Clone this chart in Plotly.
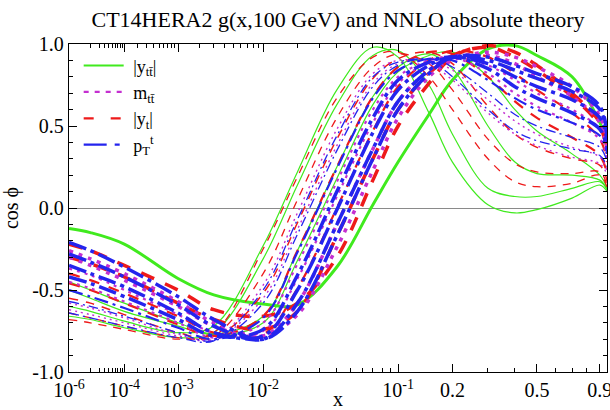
import plotly.graph_objects as go

# ---- data (cos phi vs x) ----
x_grid = [1e-6, 1e-5, 1e-4, 1e-3, 3e-3, 0.01, 0.02, 0.04, 0.07, 0.1,
          0.15, 0.2, 0.3, 0.4, 0.5, 0.7, 0.9, 0.96]

# |y_tt| (green)
g1 = [-0.60, -0.63, -0.69, -0.76, -0.72, -0.23, 0.22, 0.72, 0.98, 0.92, 0.58, 0.28, 0.02, -0.03, -0.01, 0.06, 0.14, 0.10]
g2 = [-0.66, -0.68, -0.73, -0.79, -0.76, -0.31, 0.14, 0.63, 0.93, 0.96, 0.75, 0.45, 0.12, 0.07, 0.07, 0.12, 0.16, 0.11]
g3 = [-0.50, -0.55, -0.63, -0.72, -0.77, -0.66, -0.26, 0.25, 0.68, 0.86, 0.94, 0.85, 0.50, 0.28, 0.21, 0.20, 0.17, 0.11]
g4 = [-0.45, -0.50, -0.58, -0.70, -0.77, -0.70, -0.32, 0.18, 0.63, 0.83, 0.93, 0.95, 0.80, 0.60, 0.47, 0.33, 0.20, 0.12]
g5 = [-0.125, -0.15, -0.22, -0.43, -0.53, -0.585, -0.59, -0.36, 0.02, 0.28, 0.57, 0.78, 0.97, 0.99, 0.93, 0.80, 0.52, 0.40]

# m_tt (magenta)
m1 = [-0.62, -0.65, -0.70, -0.78, -0.80, -0.47, -0.03, 0.48, 0.82, 0.90, 0.88, 0.78, 0.58, 0.45, 0.38, 0.31, 0.27, 0.20]
m2 = [-0.58, -0.61, -0.67, -0.77, -0.80, -0.55, -0.13, 0.38, 0.76, 0.88, 0.90, 0.84, 0.66, 0.53, 0.45, 0.37, 0.31, 0.22]
m3 = [-0.45, -0.49, -0.57, -0.70, -0.79, -0.70, -0.34, 0.16, 0.60, 0.80, 0.90, 0.92, 0.82, 0.70, 0.62, 0.52, 0.42, 0.30]
m4 = [-0.37, -0.41, -0.50, -0.65, -0.76, -0.75, -0.43, 0.07, 0.52, 0.76, 0.89, 0.92, 0.87, 0.78, 0.70, 0.60, 0.48, 0.34]
m5 = [-0.30, -0.35, -0.44, -0.60, -0.72, -0.78, -0.58, -0.10, 0.36, 0.65, 0.84, 0.92, 0.93, 0.88, 0.80, 0.68, 0.52, 0.36]
m6 = [-0.26, -0.31, -0.40, -0.57, -0.70, -0.78, -0.65, -0.24, 0.23, 0.55, 0.80, 0.90, 0.95, 0.92, 0.86, 0.74, 0.56, 0.38]

# |y_t| (red)
r1 = [-0.68, -0.70, -0.74, -0.80, -0.76, -0.25, 0.19, 0.67, 0.92, 0.95, 0.80, 0.60, 0.30, 0.16, 0.13, 0.15, 0.20, 0.12]
r2 = [-0.64, -0.67, -0.72, -0.79, -0.78, -0.40, 0.05, 0.55, 0.86, 0.94, 0.88, 0.72, 0.42, 0.27, 0.22, 0.21, 0.22, 0.13]
r3 = [-0.55, -0.58, -0.65, -0.76, -0.79, -0.52, -0.09, 0.42, 0.79, 0.91, 0.95, 0.88, 0.62, 0.45, 0.37, 0.30, 0.26, 0.16]
r4 = [-0.46, -0.50, -0.58, -0.71, -0.78, -0.66, -0.26, 0.25, 0.68, 0.86, 0.95, 0.94, 0.80, 0.65, 0.55, 0.43, 0.32, 0.20]
r5 = [-0.40, -0.44, -0.52, -0.66, -0.76, -0.77, -0.49, 0.00, 0.47, 0.74, 0.90, 0.96, 0.92, 0.82, 0.72, 0.58, 0.42, 0.28]
r6 = [-0.30, -0.34, -0.42, -0.58, -0.68, -0.74, -0.63, -0.17, 0.30, 0.60, 0.82, 0.93, 0.98, 0.92, 0.84, 0.68, 0.50, 0.33]
r7 = [-0.22, -0.26, -0.35, -0.50, -0.62, -0.66, -0.58, -0.30, 0.17, 0.50, 0.76, 0.92, 0.99, 0.95, 0.87, 0.70, 0.52, 0.35]

# p_T^t (blue)
b1 = [-0.64, -0.67, -0.72, -0.79, -0.81, -0.50, -0.07, 0.44, 0.80, 0.89, 0.90, 0.80, 0.60, 0.47, 0.41, 0.36, 0.32, 0.25]
b2 = [-0.57, -0.60, -0.66, -0.76, -0.81, -0.58, -0.16, 0.35, 0.74, 0.87, 0.91, 0.86, 0.70, 0.57, 0.50, 0.43, 0.37, 0.28]
b3 = [-0.50, -0.54, -0.61, -0.73, -0.80, -0.67, -0.27, 0.24, 0.67, 0.84, 0.91, 0.90, 0.78, 0.67, 0.60, 0.52, 0.44, 0.33]
b4 = [-0.42, -0.46, -0.54, -0.68, -0.78, -0.74, -0.41, 0.10, 0.55, 0.78, 0.89, 0.92, 0.85, 0.74, 0.67, 0.58, 0.48, 0.36]
b5 = [-0.35, -0.40, -0.48, -0.64, -0.76, -0.78, -0.50, -0.01, 0.46, 0.72, 0.87, 0.92, 0.88, 0.80, 0.74, 0.66, 0.55, 0.40]
b6 = [-0.28, -0.33, -0.42, -0.59, -0.72, -0.80, -0.58, -0.10, 0.36, 0.65, 0.84, 0.92, 0.90, 0.84, 0.79, 0.71, 0.60, 0.42]
b7 = [-0.21, -0.26, -0.36, -0.54, -0.68, -0.80, -0.63, -0.17, 0.30, 0.60, 0.82, 0.92, 0.92, 0.87, 0.82, 0.74, 0.62, 0.43]

x_major = [1e-6, 1e-4, 1e-3, 1e-2, 0.1, 0.2, 0.5, 0.9]
x_major_text = ["10<sup>-6</sup>", "10<sup>-4</sup>", "10<sup>-3</sup>", "10<sup>-2</sup>",
                "10<sup>-1</sup>", "0.2", "0.5", "0.9"]
x_minor = ([1e-5] + [k * 1e-5 for k in range(2, 10)] + [k * 1e-4 for k in range(2, 10)] +
           [k * 1e-3 for k in range(2, 10)] + [k * 1e-2 for k in range(2, 10)] +
           [0.3, 0.4, 0.6, 0.7, 0.8])
y_major = [-1.0, -0.5, 0.0, 0.5, 1.0]
y_major_text = ["-1.0", "-0.5", "0.0", "0.5", "1.0"]
y_minor = [round(-1 + 0.1 * k, 1) for k in range(21)]

# axis scale: the horizontal axis is linear in x^0.2
POW = 0.2
def sx(vals):
    return [v ** POW for v in vals]

X_MIN, X_MAX = 1e-6, 0.958

GREEN, MAGENTA, RED, BLUE = "#40ea1e", "#c42fd0", "#ee1a1a", "#2424ee"

fig = go.Figure()

def add(series, color, width, dash, group):
    fig.add_trace(go.Scatter(
        x=sx(x_grid), y=series, mode="lines",
        line=dict(color=color, width=width, dash=dash, shape="spline", smoothing=1.0),
        legendgroup=group, showlegend=False, hoverinfo="skip"))

for s in [g1, g2, g3, g4]:
    add(s, GREEN, 1.2, "solid", "g")
add(g5, GREEN, 3.0, "solid", "g")

for s, w, d in [(r1, 1.3, "8px,7px"), (r2, 1.3, "8px,7px"), (r3, 1.5, "9px,8px"),
                (r4, 2.2, "11px,10px"), (r5, 2.2, "11px,10px"),
                (r6, 3.5, "14px,12px"), (r7, 3.5, "14px,12px")]:
    add(s, RED, w, d, "r")

for s, w, d in [(m1, 1.4, "2px,4px"), (m2, 1.4, "2px,4px"),
                (m3, 2.2, "3px,5px"), (m4, 2.2, "3px,5px"),
                (m5, 3.5, "4px,6px"), (m6, 3.5, "4px,6px")]:
    add(s, MAGENTA, w, d, "m")

for s, w, d in [(b1, 1.3, "10px,4px,2px,4px"), (b2, 1.3, "10px,4px,2px,4px"),
                (b3, 2.2, "14px,5px,3px,5px"),
                (b4, 3.5, "18px,5px,4px,5px"), (b5, 3.5, "18px,5px,4px,5px"),
                (b6, 3.5, "18px,5px,4px,5px"), (b7, 3.5, "18px,5px,4px,5px")]:
    add(s, BLUE, w, d, "b")

# legend entries
legend_items = [
    ("\u00a0|y<sub>tt\u0304</sub>|", GREEN, "solid", "g", 1),
    ("\u00a0m<sub>tt\u0304</sub>", MAGENTA, "5px,6px", "m", 2),
    ("\u00a0|y<sub>t</sub>|", RED, "10px,17px", "r", 3),
    ("\u00a0p<sub>T</sub><sup>t</sup>", BLUE, "23px,8px,5px,8px", "b", 4),
]
for name, color, dash, grp, rank in legend_items:
    fig.add_trace(go.Scatter(
        x=[None], y=[None], mode="lines", name=name,
        line=dict(color=color, width=2.2, dash=dash),
        legendgroup=grp, legendrank=rank, showlegend=True))

FONT = "Liberation Serif, Times New Roman, serif"
FS = 20

fig.update_layout(
    width=610, height=410,
    margin=dict(l=69, r=3, t=44, b=38),
    paper_bgcolor="white", plot_bgcolor="white",
    font=dict(family=FONT, size=FS, color="black"),
    title=dict(text="CT14HERA2 g(x,100 GeV) and NNLO absolute theory",
               x=0.5, xref="paper", xanchor="center",
               y=1 - 19 / 410, yref="container", yanchor="middle",
               font=dict(family=FONT, size=22, color="black")),
    showlegend=True,
    legend=dict(x=0.018, y=0.99, xanchor="left", yanchor="top",
                bgcolor="rgba(0,0,0,0)", borderwidth=0,
                font=dict(family=FONT, size=18), tracegroupgap=0,
                itemwidth=40),
)

fig.update_xaxes(
    range=[X_MIN ** POW, X_MAX ** POW], automargin=False,
    tickmode="array", tickvals=sx(x_major), ticktext=x_major_text,
    ticklabeloverflow="allow",
    ticks="inside", ticklen=8, tickwidth=1, tickcolor="black",
    minor=dict(tickmode="array", tickvals=sx(x_minor), ticks="inside",
               ticklen=4, tickwidth=1, tickcolor="black", showgrid=False),
    showline=True, linecolor="black", linewidth=1.3, mirror="allticks",
    showgrid=False, zeroline=False,
    title=dict(text="x", standoff=4, font=dict(family=FONT, size=FS)),
    tickfont=dict(family=FONT, size=FS),
)
fig.update_yaxes(
    range=[-1, 1], automargin=False,
    tickmode="array", tickvals=y_major, ticktext=y_major_text,
    ticklabeloverflow="allow",
    ticks="inside", ticklen=8, tickwidth=1, tickcolor="black",
    minor=dict(tickmode="array", tickvals=y_minor, ticks="inside",
               ticklen=4, tickwidth=1, tickcolor="black", showgrid=False),
    showline=True, linecolor="black", linewidth=1.3, mirror="allticks",
    showgrid=False,
    zeroline=True, zerolinecolor="#8a8a8a", zerolinewidth=1.3,
    title=dict(text="cos \u03d5", standoff=8, font=dict(family=FONT, size=FS)),
    tickfont=dict(family=FONT, size=FS),
)

fig.write_html("out.html")
